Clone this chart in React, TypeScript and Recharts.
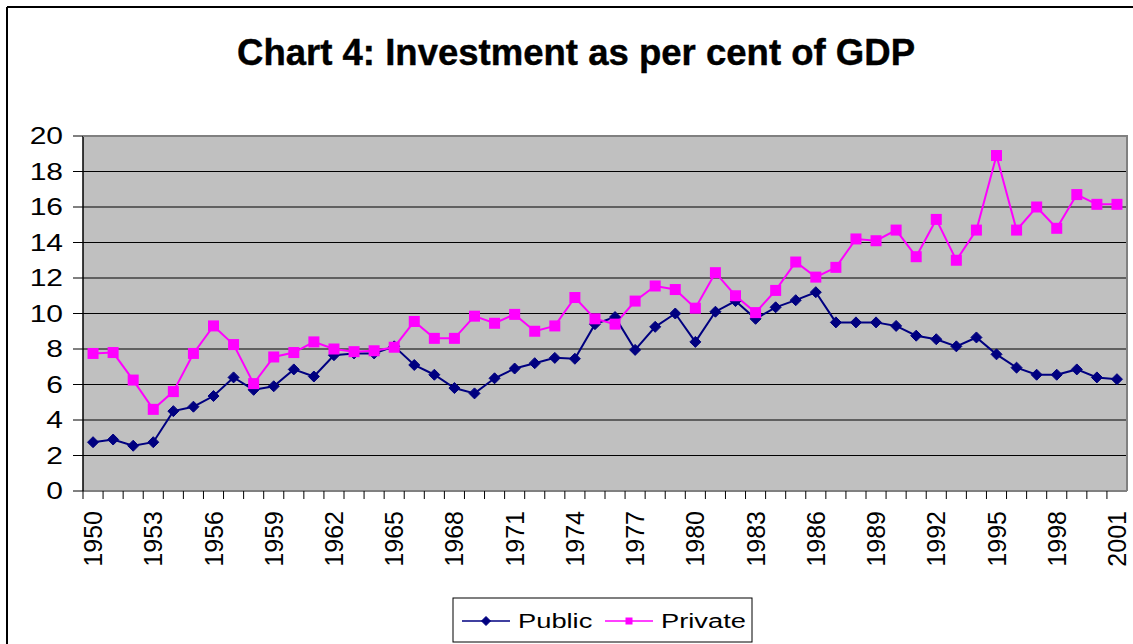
import React from "react";
import { LineChart, Line, XAxis, YAxis, CartesianGrid } from "recharts";

const years = [
  1950, 1951, 1952, 1953, 1954, 1955, 1956, 1957, 1958, 1959,
  1960, 1961, 1962, 1963, 1964, 1965, 1966, 1967, 1968, 1969,
  1970, 1971, 1972, 1973, 1974, 1975, 1976, 1977, 1978, 1979,
  1980, 1981, 1982, 1983, 1984, 1985, 1986, 1987, 1988, 1989,
  1990, 1991, 1992, 1993, 1994, 1995, 1996, 1997, 1998, 1999,
  2000, 2001,
];

const publicInv = [
  2.75, 2.9, 2.55, 2.75, 4.5, 4.75, 5.35, 6.4, 5.7, 5.9,
  6.85, 6.45, 7.65, 7.75, 7.75, 8.15, 7.1, 6.55, 5.8, 5.5,
  6.35, 6.9, 7.2, 7.5, 7.45, 9.4, 9.8, 7.95, 9.25, 10.0,
  8.4, 10.1, 10.7, 9.7, 10.35, 10.75, 11.2, 9.5, 9.5, 9.5,
  9.3, 8.75, 8.55, 8.15, 8.65, 7.7, 6.95, 6.55, 6.55, 6.85,
  6.4, 6.3,
];

const privateInv = [
  7.75, 7.8, 6.25, 4.6, 5.6, 7.75, 9.3, 8.25, 6.05, 7.55,
  7.8, 8.4, 8.0, 7.85, 7.9, 8.1, 9.55, 8.6, 8.6, 9.85,
  9.45, 9.95, 9.0, 9.3, 10.9, 9.7, 9.4, 10.7, 11.55, 11.35,
  10.3, 12.3, 11.0, 10.05, 11.3, 12.9, 12.05, 12.6, 14.2, 14.1,
  14.7, 13.2, 15.3, 13.0, 14.7, 18.9, 14.7, 16.0, 14.8, 16.7,
  16.15, 16.15,
];

const yTicks = [0, 2, 4, 6, 8, 10, 12, 14, 16, 18, 20];

const data = years.map((year, i) => ({
  year,
  Public: publicInv[i],
  Private: privateInv[i],
}));

const W = 1133;
const H = 644;
const PLOT_LEFT = 83;
const PLOT_RIGHT = 1127;
const PLOT_TOP = 136;
const PLOT_BOTTOM = 491;
const BAND = (PLOT_RIGHT - PLOT_LEFT) / years.length;
const FONT = "'Liberation Sans', Arial, sans-serif";

const series = [
  { key: "Public", color: "#000080", shape: "diamond" },
  { key: "Private", color: "#FF00FF", shape: "square" },
];

const Marker = ({ cx, cy, color, shape, r }: any) => {
  if (cx == null || cy == null) return null;
  if (shape === "diamond") {
    return (
      <path
        d={`M${cx},${cy - r}L${cx + r},${cy}L${cx},${cy + r}L${cx - r},${cy}Z`}
        fill={color}
        stroke={color}
      />
    );
  }
  return <rect x={cx - r} y={cy - r} width={r * 2} height={r * 2} fill={color} />;
};

const YTick = (props: any) => {
  const { x, y, payload } = props;
  return (
    <text
      transform={`translate(${x},${y}) scale(1.25,1)`}
      textAnchor="end"
      dominantBaseline="central"
      fontSize={24}
      fontFamily={FONT}
      fill="#000"
    >
      {payload.value}
    </text>
  );
};

const XTick = (props: any) => {
  const { x, y, index, payload } = props;
  const edge = x - BAND / 2;
  return (
    <g>
      <line x1={edge} y1={PLOT_BOTTOM} x2={edge} y2={PLOT_BOTTOM + 8} stroke="#000" />
      {index % 3 === 0 && (
        <text
          x={x}
          y={y}
          transform={`rotate(-90 ${x} ${y})`}
          textAnchor="end"
          dominantBaseline="central"
          fontSize={25}
          fontFamily={FONT}
          fill="#000"
        >
          {payload.value}
        </text>
      )}
    </g>
  );
};

const App = () => {
  return (
    <div style={{ position: "absolute", left: 0, top: 0, width: W, height: H, background: "#fff" }}>
      <LineChart
        width={W}
        height={H}
        data={data}
        margin={{ top: PLOT_TOP, right: W - PLOT_RIGHT, bottom: 0, left: 0 }}
      >
        <CartesianGrid vertical={false} stroke="#000" fill="#C0C0C0" fillOpacity={1} />
        <XAxis
          dataKey="year"
          interval={0}
          height={H - PLOT_BOTTOM}
          padding={{ left: BAND / 2, right: BAND / 2 }}
          tickLine={false}
          tickSize={6}
          tickMargin={14}
          tick={<XTick />}
          axisLine={{ stroke: "#808080", strokeWidth: 2 }}
        />
        <YAxis
          width={PLOT_LEFT}
          domain={[0, 20]}
          ticks={yTicks}
          interval={0}
          tickSize={10}
          tickMargin={10}
          tickLine={{ stroke: "#000" }}
          axisLine={{ stroke: "#000", strokeWidth: 1.5 }}
          tick={<YTick />}
        />
        {series.map((s) => (
          <Line
            key={s.key}
            dataKey={s.key}
            stroke={s.color}
            strokeWidth={2}
            isAnimationActive={false}
            dot={(p: any) => (
              <Marker key={`${s.key}-${p.index}`} cx={p.cx} cy={p.cy} color={s.color} shape={s.shape} r={5.5} />
            )}
            activeDot={false}
          />
        ))}
      </LineChart>
      <svg
        width={W}
        height={H}
        style={{ position: "absolute", left: 0, top: 0, pointerEvents: "none" }}
      >
        <line x1={7} y1={7} x2={W} y2={7} stroke="#000" strokeWidth={2} />
        <line x1={7} y1={7} x2={7} y2={H} stroke="#000" strokeWidth={2} />
        <path
          d={`M${PLOT_LEFT},${PLOT_TOP}H${PLOT_RIGHT}V${PLOT_BOTTOM}`}
          fill="none"
          stroke="#808080"
          strokeWidth={2}
        />
        <text
          x={576}
          y={65}
          textAnchor="middle"
          fontSize={36}
          fontWeight="bold"
          fontFamily={FONT}
          textLength={678}
          lengthAdjust="spacingAndGlyphs"
          fill="#000"
          stroke="#000"
          strokeWidth={0.4}
        >
          Chart 4: Investment as per cent of GDP
        </text>
        <rect x={453} y={598} width={299} height={44} fill="#fff" stroke="#000" strokeWidth={1} />
        {series.map((s, i) => {
          const x0 = 462 + i * 143;
          const cy = 621;
          return (
            <g key={s.key}>
              <line x1={x0} y1={cy} x2={x0 + 48} y2={cy} stroke={s.color} strokeWidth={1.5} />
              <Marker cx={x0 + 24} cy={cy} color={s.color} shape={s.shape} r={s.shape === "diamond" ? 4.5 : 3.5} />
              <text
                transform={`translate(${x0 + 56},${cy}) scale(1.3,1)`}
                dominantBaseline="central"
                fontSize={21}
                fontFamily={FONT}
                fill="#000"
              >
                {s.key}
              </text>
            </g>
          );
        })}
      </svg>
    </div>
  );
};

export default App;
